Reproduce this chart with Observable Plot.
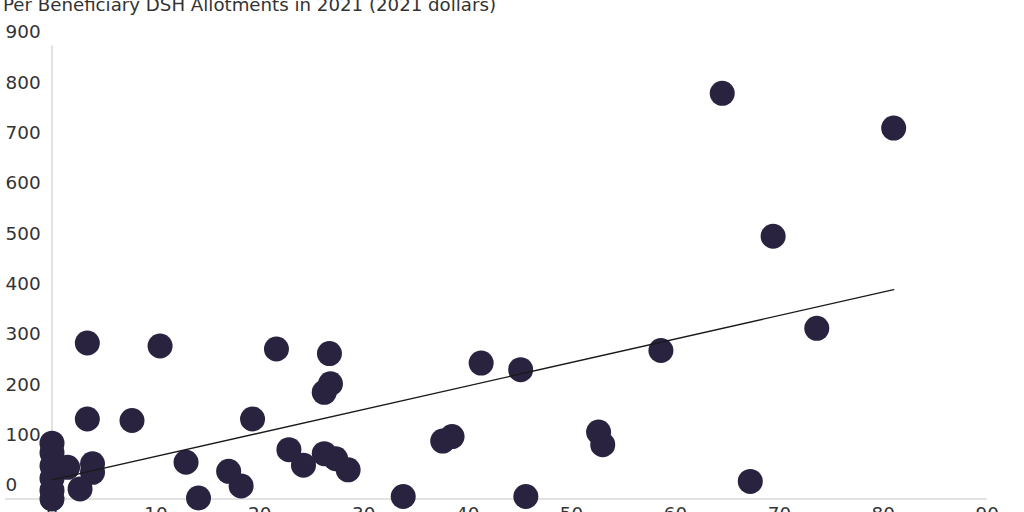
<!DOCTYPE html>
<html>
<head>
<meta charset="utf-8">
<script src="https://cdn.jsdelivr.net/npm/d3@7"></script>
<script src="https://cdn.jsdelivr.net/npm/@observablehq/plot@0.6"></script>
<style>
  html, body { margin: 0; padding: 0; background: #fff; overflow: hidden; }
  #wrap { position: relative; width: 1024px; height: 512px; overflow: hidden; }
  #title { position: absolute; left: 3px; top: -6px; font-family: "DejaVu Sans", sans-serif; font-size: 18.2px; color: #333; white-space: nowrap; z-index: 2; }
  #chart { position: absolute; left: 0; top: 0; }
</style>
</head>
<body>
<div id="wrap">
  <div id="title">Per Beneficiary DSH Allotments in 2021 (2021 dollars)</div>
  <div id="chart"></div>
</div>
<script>
// Share of ... (x) vs per-beneficiary DSH allotment (y), one point per state
const xValues = [
  64.5, 81.0, 69.4, 73.6, 58.6, 45.1, 41.3, 3.4, 10.4, 21.6,
  26.7, 26.8, 26.2, 3.4, 7.7, 19.3, 12.9, 14.1, 17.0, 18.2,
  22.8, 24.2, 26.2, 27.3, 28.5, 37.6, 38.5, 52.6, 53.0, 33.8,
  45.6, 67.2, 1.5, 3.9, 3.9, 2.7, 0, 0, 0, 0, 0, 0
];
const yValues = [
  806, 737, 522, 339, 295, 257, 270, 310, 304, 298,
  289, 229, 212, 159, 156, 159, 73, 2, 55, 26,
  98, 67, 90, 80, 58, 115, 124, 133, 108, 5,
  5, 35, 63, 70, 53, 20, 111, 92, 66, 41, 17, 0
];
// Excel linear trendline
const trendX = [0, 81];
const trendY = [38, 416];

const yTicks = [0, 100, 200, 300, 400, 500, 600, 700, 800, 900];
const xTicks = [0, 10, 20, 30, 40, 50, 60, 70, 80, 90];

const points = xValues.map((x, i) => ({x, y: yValues[i]}));
const trend = trendX.map((x, i) => ({x, y: trendY[i]}));

const plot = Plot.plot({
  width: 1024,
  height: 512,
  marginLeft: 51.5,
  marginRight: 37.3,
  marginTop: 45.5,
  marginBottom: 13.5,
  style: {fontFamily: "DejaVu Sans, sans-serif", fontSize: "18.4px", color: "#333", background: "transparent", overflow: "visible"},
  x: {domain: [0, 90]},
  y: {domain: [0, 900]},
  marks: [
    Plot.ruleX([0], {stroke: "#d9d9d9", strokeWidth: 1.5}),
    Plot.ruleY([0], {stroke: "#d9d9d9", strokeWidth: 1.5, insetLeft: -46.5}),
    Plot.axisY({ticks: yTicks, tickSize: 0, tickPadding: 0, textAnchor: "start", dx: -46.5, dy: -13.5, label: null, fill: "#333"}),
    Plot.axisX({ticks: xTicks, tickSize: 0, tickPadding: 8, label: null, fill: "#333"}),
    Plot.dot(points, {x: "x", y: "y", r: 12.5, fill: "#29233f", stroke: null}),
    Plot.line(trend, {x: "x", y: "y", stroke: "#1a1a1a", strokeWidth: 1.4})
  ]
});
document.getElementById("chart").appendChild(plot);
</script>
</body>
</html>
